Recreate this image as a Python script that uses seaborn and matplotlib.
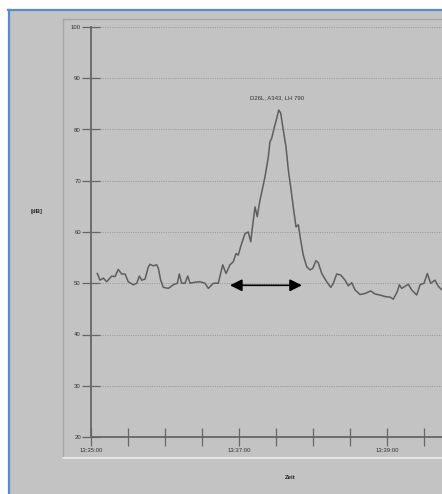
import matplotlib
matplotlib.use("Agg")
import matplotlib.pyplot as plt
from matplotlib.lines import Line2D
from matplotlib.patches import Rectangle
import seaborn as sns
import pandas as pd

# ---- data (seconds after 13:35:00, level in dB) ----
time_s = [5.1, 7.3, 10.0, 12.7, 16.8, 19.5, 22.1, 24.9, 27.6, 30.2, 34.3, 37.1,
          39.2, 41.1, 43.8, 46.5, 47.8, 50.5, 53.3, 54.6, 56.5, 58.6, 62.7, 66.7,
          70.0, 71.6, 73.5, 76.2, 78.4, 80.3, 84.3, 88.4, 92.4, 95.1, 99.2, 103.2,
          106.8, 109.5, 112.7, 115.4, 117.6, 119.4, 122.2, 124.9, 127.5, 129.5,
          131.6, 133.0, 134.8, 137.0, 139.7, 141.1, 143.8, 145.1, 146.5, 148.4,
          150.6, 152.2, 153.8, 155.9, 158.1, 160.0, 161.9, 164.0, 166.2, 168.1,
          170.0, 172.1, 174.9, 177.6, 179.8, 182.4, 184.3, 187.1, 191.1, 194.4,
          196.5, 199.2, 202.5, 206.0, 208.6, 211.4, 214.1, 218.1, 222.2, 226.8,
          230.3, 234.3, 238.4, 242.4, 245.1, 248.4, 250.0, 251.9, 254.6, 257.3,
          260.0, 264.1, 266.8, 270.0, 272.7, 275.4, 278.9, 281.6, 284.6, 290.0]
level_db = [51.9, 50.6, 51.0, 50.3, 51.4, 51.3, 52.7, 51.8, 51.8, 50.3, 49.7, 50.0,
            51.4, 50.6, 50.8, 53.2, 53.7, 53.4, 53.6, 52.9, 50.6, 49.2, 49.0, 49.7,
            50.0, 51.8, 50.0, 50.0, 51.4, 50.0, 50.2, 50.3, 50.0, 49.0, 50.0, 50.0,
            53.6, 51.9, 53.6, 54.2, 55.8, 55.5, 57.8, 59.7, 60.0, 58.1,
            62.3, 64.9, 63.0, 66.2, 69.2, 70.8, 74.7, 77.6, 78.3, 80.2,
            82.2, 83.8, 83.2, 79.9, 76.6, 72.1, 68.8, 64.9, 61.0, 61.4,
            58.4, 55.5, 53.2, 52.6, 52.9, 54.4, 54.0, 51.9, 50.3, 49.2,
            50.0, 51.8, 51.6, 50.6, 49.5, 50.1, 48.7, 47.8, 48.0, 48.5,
            47.9, 47.7, 47.4, 47.3, 46.9, 48.4, 49.7, 49.0, 49.4, 49.8,
            48.7, 47.7, 49.7, 50.0, 51.9, 50.0, 50.6, 49.4, 48.7, 48.5]
y_ticks = [20, 30, 40, 50, 60, 70, 80, 90, 100]
x_major_ticks = [0, 120, 240]
x_major_labels = ["13:35:00", "13:37:00", "13:39:00"]
x_minor_ticks = [30, 60, 90, 150, 180, 210, 270]
annotation_text = "D26L, A343, LH 790"
annotation_pos = (150.8, 86.2)
arrow_start, arrow_end, arrow_level = 112.7, 171.0, 49.6

df = pd.DataFrame({"t": time_s, "db": level_db})

W, H = 442, 494
fig = plt.figure(figsize=(W / 100, H / 100), dpi=100)
fig.patch.set_facecolor("white")

def fx(px):
    return px / W

def fy(py):
    return 1 - py / H

bg = "#c3c3c3"
fig.patches.append(Rectangle((fx(8), 0), 1, fy(10), transform=fig.transFigure,
                             facecolor=bg, edgecolor="none", zorder=-10))
fig.lines.append(Line2D([fx(8.5), fx(8.5)], [0, fy(10)], transform=fig.transFigure,
                        color="#5a8ad0", lw=1.6, zorder=-5))
fig.lines.append(Line2D([fx(8), 1], [fy(10.5), fy(10.5)], transform=fig.transFigure,
                        color="#5a8ad0", lw=1.6, zorder=-5))
# inner panel bevel
fig.lines.append(Line2D([fx(63.5), fx(63.5)], [fy(19), fy(458)], transform=fig.transFigure,
                        color="#a6a6a6", lw=1.0, zorder=-5))
fig.lines.append(Line2D([fx(63.5), 1], [fy(19.5), fy(19.5)], transform=fig.transFigure,
                        color="#a6a6a6", lw=1.0, zorder=-5))
fig.lines.append(Line2D([fx(63.5), 1], [fy(458), fy(458)], transform=fig.transFigure,
                        color="#ececec", lw=1.2, zorder=-5))

px_per_s = 148 / 120.0
xmax = 300
ax = fig.add_axes([fx(91), fy(437), fx(xmax * px_per_s), fy(27) - fy(437)])
ax.set_zorder(5)
ax.patch.set_visible(False)

# dotted horizontal grid
for yv in y_ticks[1:]:
    ax.plot([7.3, xmax], [yv, yv], color="#9c9c9c", lw=0.7,
            linestyle=(0, (1.2, 1.2)), zorder=1)

sns.lineplot(data=df, x="t", y="db", ax=ax, color="#5e5e5e", lw=1.1, zorder=3)

ax.set_xlim(0, xmax)
ax.set_ylim(20, 100)
ax.set_xlabel("")
ax.set_ylabel("")

for s in ["top", "right"]:
    ax.spines[s].set_visible(False)
for s in ["left", "bottom"]:
    ax.spines[s].set_color("#666666")
    ax.spines[s].set_linewidth(1.3)

ax.set_yticks(y_ticks)
ax.set_yticklabels([str(v) for v in y_ticks])
ax.set_xticks(x_major_ticks)
ax.set_xticklabels(x_major_labels)
ax.set_xticks(x_minor_ticks, minor=True)
ax.tick_params(axis="y", direction="inout", length=12.5, width=0.9, color="#666666",
               labelsize=4.3, labelcolor="#333333", pad=1)
ax.tick_params(axis="x", which="both", direction="inout", length=13, width=0.9,
               color="#666666", labelsize=4.3, labelcolor="#333333", pad=1.5)
for lab in ax.get_yticklabels():
    lab.set_fontfamily("Liberation Sans")
for lab in ax.get_xticklabels():
    lab.set_fontfamily("Liberation Sans")

ax.text(annotation_pos[0], annotation_pos[1], annotation_text, ha="center", va="center",
        fontsize=4.3, color="#333333", family="Liberation Sans")

ax.annotate("", xy=(arrow_start, arrow_level), xytext=(arrow_end, arrow_level),
            arrowprops=dict(arrowstyle="<|-|>", color="black", lw=1.2,
                            mutation_scale=18, shrinkA=0, shrinkB=0), zorder=6)

fig.text(fx(37), fy(211), "[dB]", ha="center", va="center", fontsize=4.3,
         color="#222222", family="Liberation Sans", weight="bold")
fig.text(fx(290), fy(477), "Zeit", ha="center", va="center", fontsize=4.3,
         color="#222222", family="Liberation Sans", weight="bold")

fig.savefig("out.png", dpi=100)
